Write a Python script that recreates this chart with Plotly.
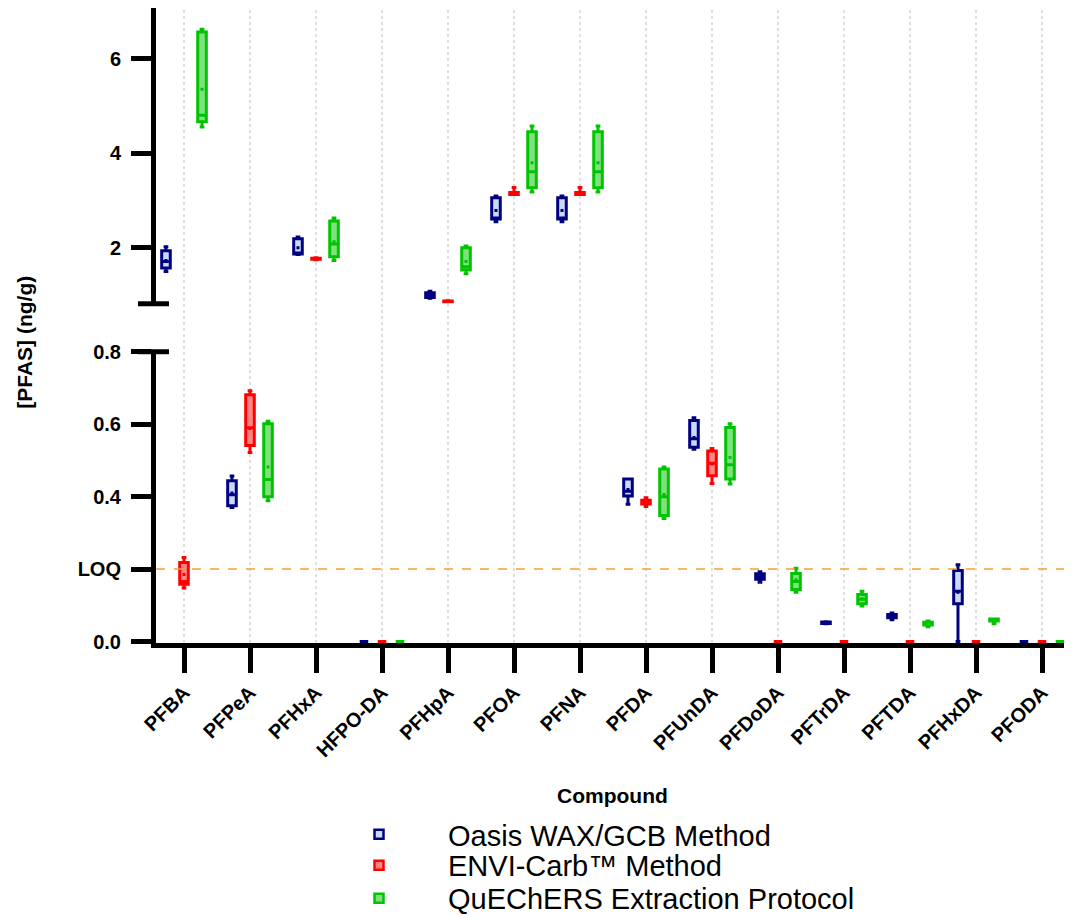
import plotly.graph_objects as go

compounds = ["PFBA", "PFPeA", "PFHxA", "HFPO-DA", "PFHpA", "PFOA", "PFNA",
             "PFDA", "PFUnDA", "PFDoDA", "PFTrDA", "PFTDA", "PFHxDA", "PFODA"]

# Oasis WAX/GCB Method
wax_min = [1.50, 0.370, 1.86, 0, 0.93, 2.55, 2.55, 0.379, 0.531, 0.164, 0.049, 0.060, 0.000, 0]
wax_q1 = [1.57, 0.375, 1.87, 0, 0.95, 2.61, 2.61, 0.402, 0.536, 0.172, 0.050, 0.066, 0.104, 0]
wax_med = [1.71, 0.405, 1.89, 0, 1.00, 2.63, 2.63, 0.415, 0.560, 0.180, 0.052, 0.071, 0.139, 0]
wax_q3 = [1.94, 0.444, 2.19, 0, 1.05, 3.06, 3.06, 0.449, 0.610, 0.187, 0.054, 0.075, 0.196, 0]
wax_max = [2.02, 0.457, 2.23, 0, 1.08, 3.10, 3.10, 0.449, 0.618, 0.193, 0.055, 0.079, 0.212, 0]
wax_mean = [1.73, 0.410, 2.00, 0, 1.00, 2.79, 2.79, 0.420, 0.563, 0.180, 0.052, 0.071, 0.136, 0]

# ENVI-Carb Method
envi_min = [0.148, 0.522, 1.745, 0, 0.855, 3.13, 3.13, 0.373, 0.436, 0, 0, 0, 0, 0]
envi_q1 = [0.158, 0.541, 1.760, 0, 0.860, 3.13, 3.13, 0.380, 0.458, 0, 0, 0, 0, 0]
envi_med = [0.166, 0.590, 1.770, 0, 0.870, 3.15, 3.15, 0.385, 0.492, 0, 0, 0, 0, 0]
envi_q3 = [0.218, 0.681, 1.780, 0, 0.875, 3.17, 3.17, 0.390, 0.526, 0, 0, 0, 0, 0]
envi_max = [0.232, 0.692, 1.790, 0, 0.880, 3.28, 3.28, 0.397, 0.533, 0, 0, 0, 0, 0]
envi_mean = [0.185, 0.588, 1.770, 0, 0.870, 3.16, 3.16, 0.385, 0.490, 0, 0, 0, 0, 0]

# QuEChERS Extraction Protocol
que_min = [4.56, 0.389, 1.73, 0, 1.45, 3.18, 3.18, 0.340, 0.435, 0.136, 0.098, 0.041, 0.049, 0]
que_q1 = [4.67, 0.400, 1.81, 0, 1.53, 3.27, 3.27, 0.348, 0.449, 0.144, 0.104, 0.046, 0.057, 0]
que_med = [4.81, 0.447, 2.08, 0, 1.60, 3.61, 3.61, 0.400, 0.488, 0.166, 0.117, 0.050, 0.059, 0]
que_q3 = [6.57, 0.601, 2.57, 0, 2.00, 4.46, 4.46, 0.476, 0.591, 0.188, 0.130, 0.053, 0.062, 0]
que_max = [6.63, 0.608, 2.63, 0, 2.04, 4.58, 4.58, 0.482, 0.601, 0.202, 0.139, 0.057, 0.062, 0]
que_mean = [5.36, 0.482, 2.13, 0, 1.71, 3.80, 3.80, 0.406, 0.508, 0.170, 0.118, 0.050, 0.059, 0]

series_names = ["Oasis WAX/GCB Method", "ENVI-Carb\u2122 Method", "QuEChERS Extraction Protocol"]
LOQ = 0.2
lower_ticks = [0, 0.2, 0.4, 0.6, 0.8]
lower_ticktext = ["0.0", "LOQ", "0.4", "0.6", "0.8"]
upper_ticks = [2, 4, 6]
BREAK = 0.8

line_colors = ["#000080", "#FF0000", "#00C400"]
fill_colors = ["#C8DAF4", "#FF8585", "#80E080"]
offsets = [-0.273, 0.0, 0.273]

series = [
    (wax_min, wax_q1, wax_med, wax_q3, wax_max, wax_mean),
    (envi_min, envi_q1, envi_med, envi_q3, envi_max, envi_mean),
    (que_min, que_q1, que_med, que_q3, que_max, que_mean),
]

FONT = "Liberation Sans, Arial, sans-serif"

# page layout (the html body adds an 8px offset)
OFF = 8
W, H = 1072 - OFF, 918 - OFF
L, R, T = 156 - OFF, 0, 0
plot_bottom = 643.5 - OFF
B = H - plot_bottom
pw, ph = W - L - R, H - T - B


def px_x(page_x):
    return (page_x - OFF - L) / pw


def px_y(page_y):
    return (plot_bottom - (page_y - OFF)) / ph


upper_dom = [px_y(304), 1.0]
lower_dom = [0.0, px_y(352)]

legend_ids = ["legend", "legend2", "legend3"]
legend_rows = [835, 866, 899]

fig = go.Figure()

for s, (mn, q1, md, q3, mx, mean) in enumerate(series):
    for upper in (False, True):
        idx = [i for i in range(len(compounds)) if (md[i] > BREAK) == upper]
        if not idx:
            continue
        xa, ya = ("x2", "y2") if upper else ("x", "y")
        xs = [i + offsets[s] for i in idx]
        fig.add_trace(go.Box(
            x=xs,
            q1=[q1[i] for i in idx], median=[md[i] for i in idx], q3=[q3[i] for i in idx],
            lowerfence=[mn[i] for i in idx], upperfence=[mx[i] for i in idx],
            width=0.13, whiskerwidth=0.55, boxpoints=False,
            line=dict(color=line_colors[s], width=3), fillcolor=fill_colors[s],
            xaxis=xa, yaxis=ya, showlegend=False, hoverinfo="skip",
        ))
        fig.add_trace(go.Scatter(
            x=xs, y=[mean[i] for i in idx], mode="markers",
            marker=dict(symbol="square", size=3, color=line_colors[s]),
            xaxis=xa, yaxis=ya, showlegend=False, hoverinfo="skip",
        ))
    # legend entry
    fig.add_trace(go.Scatter(
        x=[None], y=[None], mode="markers", name=series_names[s], legend=legend_ids[s],
        marker=dict(symbol="square", size=9, color=fill_colors[s],
                    line=dict(color=line_colors[s], width=2.5)),
    ))

shapes = []
# vertical dotted grid lines through both panels
for i in range(len(compounds)):
    shapes.append(dict(type="line", xref="x", yref="paper", x0=i, x1=i, y0=0, y1=1,
                       line=dict(color="#BDBDBD", width=1, dash="dot"), layer="below"))
# LOQ line
shapes.append(dict(type="line", xref="paper", yref="y", x0=0, x1=1, y0=LOQ, y1=LOQ,
                   line=dict(color="#F7A035", width=1.5, dash="dash")))
# broken-axis caps
for yref, yv in (("y2 domain", 0), ("y domain", 1)):
    shapes.append(dict(type="line", xref="paper", yref=yref,
                       x0=px_x(138), x1=px_x(169), y0=yv, y1=yv,
                       line=dict(color="black", width=5)))

axis_common = dict(showline=True, linecolor="black", linewidth=5, ticks="outside",
                   tickcolor="black", tickwidth=5, showgrid=False, zeroline=False,
                   automargin=False,
                   tickfont=dict(family=FONT, size=20, color="black", weight="bold"))

legend_common = dict(xanchor="left", yanchor="middle", itemwidth=128,
                     font=dict(family=FONT, size=29, color="black"),
                     bgcolor="rgba(0,0,0,0)")

# x range from category spacing of 66px, first category at page x=184
spacing = 66.0
x0 = -(184 - OFF - L) / spacing
x1 = x0 + pw / spacing

# upper axis: 6 at page y=59, 2 at page y=248
up_scale = (248 - 59) / 4.0
up_lo = 2 - (304 - 248) / up_scale
up_hi = 6 + (59 - 8) / up_scale

fig.update_layout(
    width=W, height=H, autosize=False,
    margin=dict(l=L, r=R, t=T, b=B, autoexpand=False),
    paper_bgcolor="white", plot_bgcolor="white",
    shapes=shapes,
    xaxis=dict(domain=[0, 1], anchor="y", range=[x0, x1],
               tickvals=list(range(len(compounds))), ticktext=compounds,
               tickangle=-45, ticklen=25, layer="below traces", **axis_common),
    xaxis2=dict(domain=[0, 1], anchor="y2", matches="x", showticklabels=False,
                showline=False, ticks="", showgrid=False, zeroline=False),
    yaxis=dict(domain=lower_dom, anchor="x", range=[-0.004, 0.8],
               tickvals=lower_ticks, ticktext=lower_ticktext, ticklen=20,
               ticklabelstandoff=6, **axis_common),
    yaxis2=dict(domain=upper_dom, anchor="x2", range=[up_lo, up_hi],
                tickvals=upper_ticks, ticklen=20, ticklabelstandoff=6, **axis_common),
    annotations=[
        dict(text="[PFAS] (ng/g)", xref="paper", yref="paper",
             x=px_x(25), y=px_y(343), xanchor="center", yanchor="middle",
             textangle=-90, showarrow=False,
             font=dict(family=FONT, size=21, color="black", weight="bold")),
        dict(text="Compound", xref="paper", yref="paper",
             x=px_x(612), y=px_y(796), xanchor="center", yanchor="middle",
             showarrow=False,
             font=dict(family=FONT, size=21, color="black", weight="bold")),
    ],
    legend=dict(x=px_x(310), y=px_y(legend_rows[0]), **legend_common),
    legend2=dict(x=px_x(310), y=px_y(legend_rows[1]), **legend_common),
    legend3=dict(x=px_x(310), y=px_y(legend_rows[2]), **legend_common),
    showlegend=True,
)

fig.write_html("out.html")
